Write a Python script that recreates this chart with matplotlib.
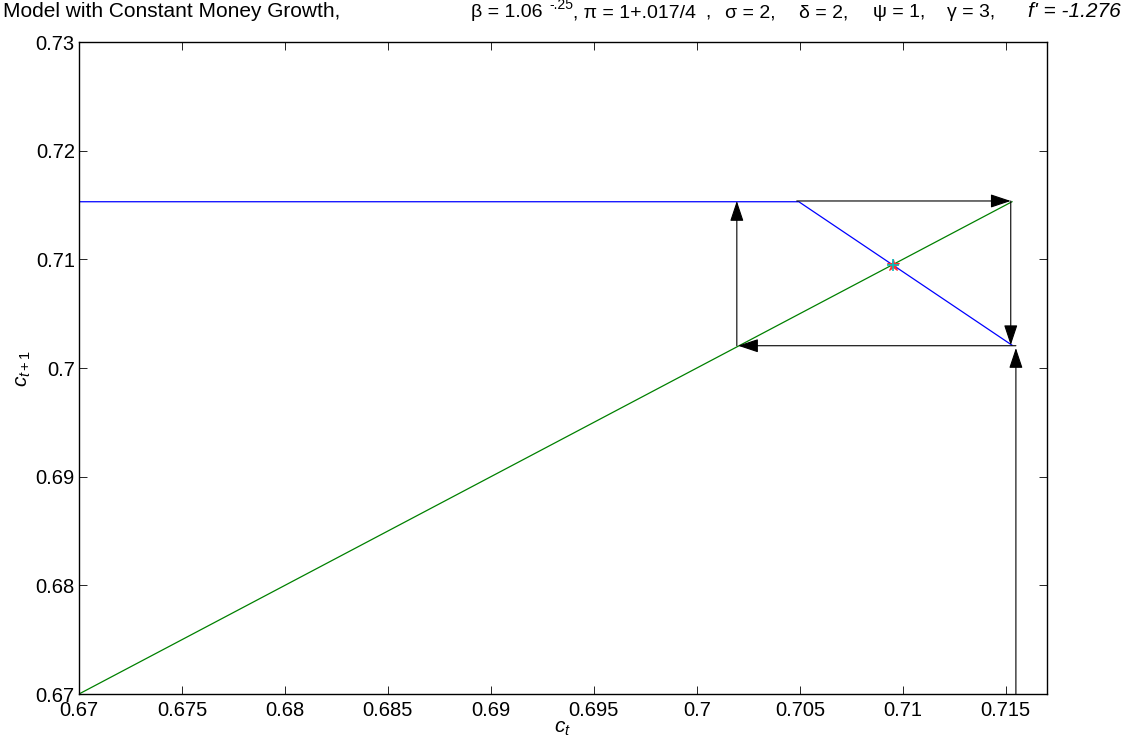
import matplotlib
matplotlib.use("Agg")
import matplotlib.pyplot as plt

plt.rcParams['font.family'] = ['Liberation Sans', 'DejaVu Sans']
plt.rcParams['mathtext.fontset'] = 'custom'
plt.rcParams['mathtext.it'] = 'Liberation Sans:italic'
plt.rcParams['mathtext.rm'] = 'Liberation Sans'

# policy function c_{t+1} = f(c_t): flat at the upper bound, then falling
policy_c = [0.67, 0.70495, 0.7153]
policy_next = [0.7153, 0.7153, 0.7021]

# 45-degree line
diag_c = [0.67, 0.7153]
diag_next = [0.67, 0.7153]

# steady state
ss_c = 0.7095
ss_next = 0.7095

# cobweb arrows (start -> end)
arrow_x0 = [0.71549, 0.71549, 0.70194, 0.70485, 0.71524]
arrow_y0 = [0.67, 0.70205, 0.70205, 0.71537, 0.71537]
arrow_x1 = [0.71549, 0.70200, 0.70194, 0.71524, 0.71524]
arrow_y1 = [0.70184, 0.70205, 0.71537, 0.71537, 0.70210]

x_ticks = [0.67, 0.675, 0.68, 0.685, 0.69, 0.695, 0.70, 0.705, 0.71, 0.715]
x_tick_labels = ['0.67', '0.675', '0.68', '0.685', '0.69', '0.695', '0.7', '0.705', '0.71', '0.715']
y_ticks = [0.67, 0.68, 0.69, 0.70, 0.71, 0.72, 0.73]
y_tick_labels = ['0.67', '0.68', '0.69', '0.7', '0.71', '0.72', '0.73']

# title fragments: (text, left edge in px)
title_parts = [
    ('β = 1.06', 471),
    (', π = 1+.017/4', 573),
    (',', 705),
    ('σ = 2,', 725),
    ('δ = 2,', 799),
    ('ψ = 1,', 873),
    ('γ = 3,', 947),
]
title_lead = 'Model with Constant Money Growth,'
title_exponent = '-.25'
title_slope = "f' = -1.276"

W, H = 1128, 751
fig = plt.figure(figsize=(W / 100, H / 100), dpi=100)
ax = fig.add_axes([79 / W, 1 - 694 / H, (1047 - 79) / W, (694 - 42) / H])

ax.plot(policy_c, policy_next, color='#0000ff', lw=0.9)
ax.plot(diag_c, diag_next, color='#008000', lw=0.9)

for x0, y0, x1, y1 in zip(arrow_x0, arrow_y0, arrow_x1, arrow_y1):
    ax.annotate('', xy=(x1, y1), xytext=(x0, y0),
                arrowprops=dict(arrowstyle='-|>,head_length=0.9,head_width=0.3',
                                color='black', lw=0.8, shrinkA=0, shrinkB=0,
                                mutation_scale=14))

ax.plot([ss_c], [ss_next], marker='*', color='#ff3030', ms=9, mew=0.8, ls='none')
ax.plot([ss_c], [ss_next], marker='+', color='#00c0c0', ms=9, mew=1.2, ls='none')

ax.set_xlim(0.67, 0.717)
ax.set_ylim(0.67, 0.73)
ax.set_xticks(x_ticks)
ax.set_xticklabels(x_tick_labels)
ax.set_yticks(y_ticks)
ax.set_yticklabels(y_tick_labels)
ax.tick_params(direction='in', length=6, width=0.6, top=True, right=True,
               labelsize=14.5, pad=3, colors='black')
ax.tick_params(axis='x', pad=5)
for s in ax.spines.values():
    s.set_linewidth(1.0)

ax.set_xlabel('$c_t$', fontsize=15, labelpad=-1)
ax.set_ylabel('$c_{t+1}$', fontsize=15, labelpad=2)

# title
yb = 1 - 17 / H
fig.text(3 / W, yb, title_lead, fontsize=15, va='baseline', ha='left')
for txt, px in title_parts:
    fig.text(px / W, yb, txt, fontsize=14, va='baseline', ha='left')
fig.text(549 / W, 1 - 9 / H, title_exponent, fontsize=10, va='baseline', ha='left')
fig.text(1121 / W, yb, title_slope, fontsize=15, va='baseline', ha='right', style='italic')

fig.savefig('out.png', dpi=100)
